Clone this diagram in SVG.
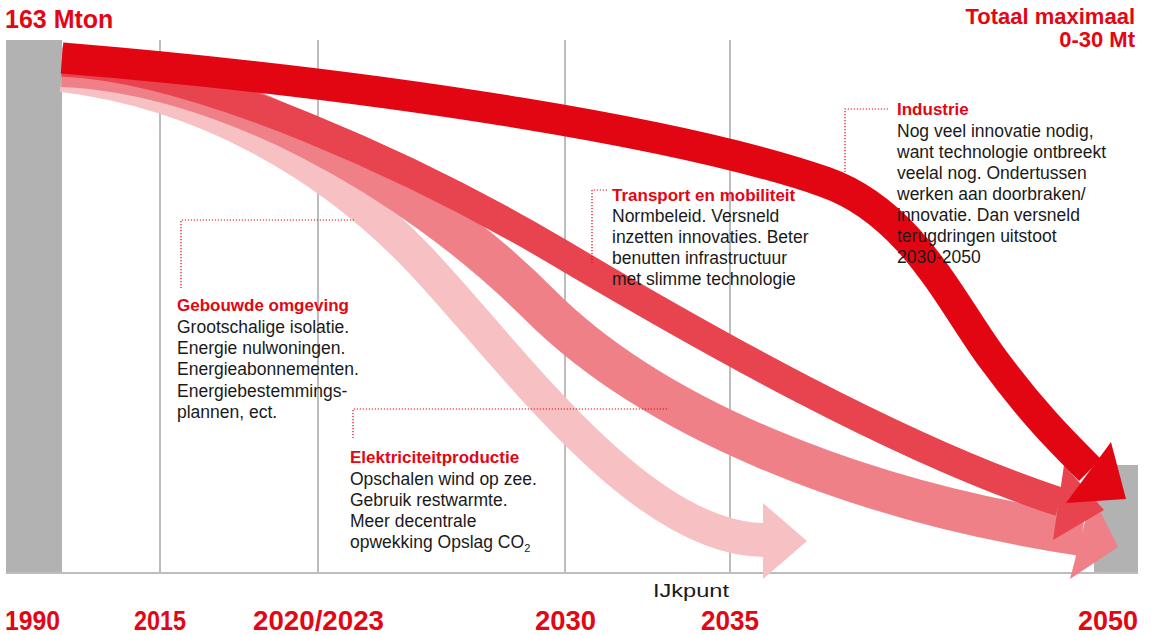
<svg xmlns="http://www.w3.org/2000/svg" width="1151" height="635" viewBox="0 0 1151 635">
<style>
.grid{stroke:#bdbdbd;stroke-width:2;fill:none}
.bar{fill:#b2b2b2}
.lead{stroke:#e30613;stroke-width:1.2;stroke-dasharray:1.2 1.8;fill:none}
.h{font-family:"Liberation Sans",Arial,sans-serif;font-weight:bold;font-size:17px;fill:#e30613}
.b{font-family:"Liberation Sans",Arial,sans-serif;font-size:17.5px;fill:#1a1a1a}
.yr{font-family:"Liberation Sans Narrow","Liberation Sans",Arial,sans-serif;font-weight:bold;font-size:28px;fill:#e30613}
.tt{font-family:"Liberation Sans",Arial,sans-serif;font-weight:bold;fill:#e30613}
.shaft{fill:none;stroke-linecap:butt;stroke-linejoin:round}
</style>
<rect width="1151" height="635" fill="#ffffff"/>
<g id="axes">
<rect class="bar" x="6" y="40" width="56" height="533"/>
<rect class="bar" x="1094" y="465" width="44" height="108"/>
<line class="grid" x1="160" y1="40" x2="160" y2="573"/>
<line class="grid" x1="318" y1="40" x2="318" y2="573"/>
<line class="grid" x1="565" y1="40" x2="565" y2="573"/>
<line class="grid" x1="730" y1="40" x2="730" y2="573"/>
<line class="grid" x1="6" y1="573" x2="1138" y2="573"/>
</g>
<g id="connectors">
<g id="arrow-elektriciteit">
<path class="shaft" stroke="#f7c1c4" stroke-width="34" d="M62,75 C200,92 325,160 420,260 C510,355 640,540 765,540"/>
<polygon fill="#f7c1c4" points="763,503 807,541 763,579"/>
</g>
<g id="arrow-gebouwde">
<path class="shaft" stroke="#f08088" stroke-width="42" d="M62,66 C220,72 410,175 540,305 C650,415 850,500 1082,535"/>
<polygon fill="#f08088" points="1092,495 1118,547 1070,579"/>
</g>
<g id="arrow-transport">
<path class="shaft" stroke="#e8444f" stroke-width="29" d="M62,62 C200,68 420,170 560,253 C700,336 900,450 1060,502"/>
<polygon fill="#e8444f" points="1064,465 1104,510 1053,540"/>
</g>
<g id="arrow-industrie">
<path class="shaft" stroke="#e20613" stroke-width="31" d="M62,58 C400,86 690,135 825,182 C910,212 950,300 990,355 C1030,410 1060,440 1090,470"/>
<polygon fill="#e20613" points="1111,442 1126,499 1066,503"/>
</g>
<g id="leaders">
<polyline class="lead" points="354,220 181,220 181,288"/>
<polyline class="lead" points="667,409 353,409 353,438"/>
<polyline class="lead" points="607,190 592,190 592,263"/>
<polyline class="lead" points="888,109 845,109 845,172"/>
</g>
</g>
<g id="title-left">
<text class="tt" x="5" y="28" font-size="25">163 Mton</text>
</g>
<g id="title-right">
<text class="tt" x="1135" y="24" font-size="22" text-anchor="end">Totaal maximaal</text>
<text class="tt" x="1135" y="47" font-size="22" text-anchor="end">0-30 Mt</text>
</g>
<g id="node-gebouwde">
<text class="h" x="177" y="311">Gebouwde omgeving</text>
<text class="b" x="177" y="333">Grootschalige isolatie.</text>
<text class="b" x="177" y="354">Energie nulwoningen.</text>
<text class="b" x="177" y="375">Energieabonnementen.</text>
<text class="b" x="177" y="397">Energiebestemmings-</text>
<text class="b" x="177" y="418">plannen, ect.</text>
</g>
<g id="node-elektriciteit">
<text class="h" x="350" y="463">Elektriciteitproductie</text>
<text class="b" x="350" y="485">Opschalen wind op zee.</text>
<text class="b" x="350" y="506">Gebruik restwarmte.</text>
<text class="b" x="350" y="527">Meer decentrale</text>
<text class="b" x="350" y="548">opwekking Opslag CO<tspan font-size="11" dy="4">2</tspan></text>
</g>
<g id="node-transport">
<text class="h" x="612" y="201">Transport en mobiliteit</text>
<text class="b" x="612" y="222">Normbeleid. Versneld</text>
<text class="b" x="612" y="243">inzetten innovaties. Beter</text>
<text class="b" x="612" y="264">benutten infrastructuur</text>
<text class="b" x="612" y="285">met slimme technologie</text>
</g>
<g id="node-industrie">
<text class="h" x="897" y="115">Industrie</text>
<text class="b" x="897" y="137">Nog veel innovatie nodig,</text>
<text class="b" x="897" y="158">want technologie ontbreekt</text>
<text class="b" x="897" y="179">veelal nog. Ondertussen</text>
<text class="b" x="897" y="200">werken aan doorbraken/</text>
<text class="b" x="897" y="221">innovatie. Dan versneld</text>
<text class="b" x="897" y="242">terugdringen uitstoot</text>
<text class="b" x="897" y="263">2030-2050</text>
</g>
<g id="axis-labels">
<text class="b" x="653" y="597" font-size="20" textLength="76" lengthAdjust="spacingAndGlyphs">IJkpunt</text>
<text class="yr" x="5" y="630" textLength="55" lengthAdjust="spacingAndGlyphs">1990</text>
<text class="yr" x="134" y="630" textLength="52" lengthAdjust="spacingAndGlyphs">2015</text>
<text class="yr" x="253" y="630" textLength="131" lengthAdjust="spacingAndGlyphs">2020/2023</text>
<text class="yr" x="535" y="630" textLength="61" lengthAdjust="spacingAndGlyphs">2030</text>
<text class="yr" x="701" y="630" textLength="58" lengthAdjust="spacingAndGlyphs">2035</text>
<text class="yr" x="1078" y="630" textLength="60" lengthAdjust="spacingAndGlyphs">2050</text>
</g>
</svg>
